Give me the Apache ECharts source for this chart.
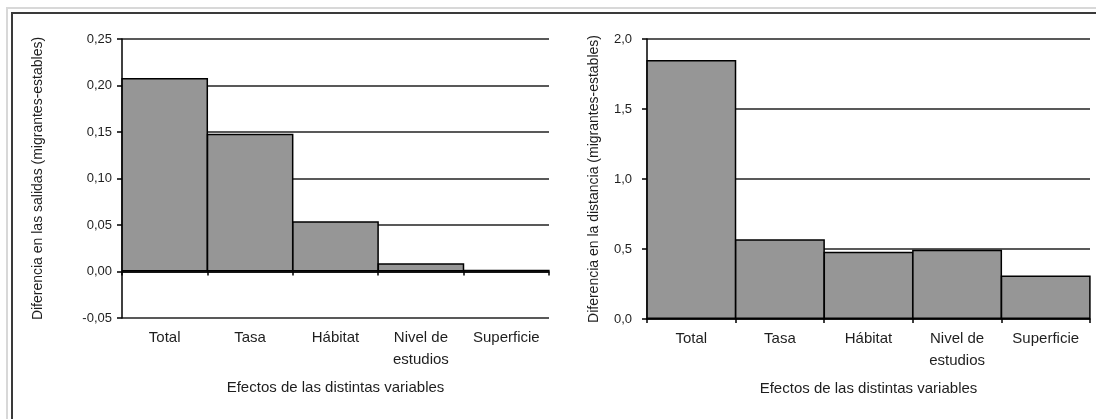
<!DOCTYPE html>
<html>
<head>
<meta charset="utf-8">
<script src="https://cdn.jsdelivr.net/npm/echarts@6/dist/echarts.min.js"></script>
<style>
html,body{margin:0;padding:0;background:#fff;}
#c{width:1096px;height:419px;}
</style>
</head>
<body>
<div id="c"></div>
<script>
var categories = ['Total', 'Tasa', 'Hábitat', 'Nivel de\nestudios', 'Superficie'];
var salidasValues = [0.208, 0.148, 0.054, 0.009, 0.002];
var distanciaValues = [1.85, 0.57, 0.48, 0.495, 0.31];
var leftTicks = { min: -0.05, max: 0.25, interval: 0.05 };
var rightTicks = { min: 0, max: 2.0, interval: 0.5 };
var leftYTitle = 'Diferencia en las salidas (migrantes-estables)';
var rightYTitle = 'Diferencia en la distancia (migrantes-estables)';
var xTitle = 'Efectos de las distintas variables';

var FONT = '"Liberation Sans", Arial, sans-serif';
var TXT = '#1e1e1e';

function fmt(d) {
  return function (v) { return v.toFixed(d).replace('.', ','); };
}

var chart = echarts.init(document.getElementById('c'), null, { renderer: 'canvas' });

var axisLineStyle = { color: '#000', width: 1.5 };
var gridLineStyle = { color: '#222', width: 1.6 };

chart.setOption({
  animation: false,
  backgroundColor: '#fff',
  textStyle: { fontFamily: FONT },
  graphic: [
    { type: 'rect', shape: { x: 7, y: 8, width: 2000, height: 2000 }, style: { fill: 'none', stroke: '#d8d8d8', lineWidth: 2 }, silent: true },
    { type: 'rect', shape: { x: 12, y: 13, width: 2000, height: 2000 }, style: { fill: 'none', stroke: '#3a3a3a', lineWidth: 2 }, silent: true }
  ],
  grid: [
    { left: 122, top: 39, width: 427, height: 279 },
    { left: 647, top: 39, width: 443, height: 280 }
  ],
  xAxis: [
    {
      type: 'category', gridIndex: 0, data: categories, position: 'bottom',
      axisLine: { show: true, onZero: true, lineStyle: axisLineStyle },
      axisTick: { show: true, length: 4, interval: 0, lineStyle: { color: '#000', width: 1.5 } },
      axisLabel: { show: false },
      splitLine: { show: false }
    },
    {
      type: 'category', gridIndex: 0, data: categories, position: 'bottom',
      axisLine: { show: false, onZero: false },
      axisTick: { show: false },
      axisLabel: { show: true, interval: 0, margin: 9, fontSize: 15, lineHeight: 22, color: TXT, fontFamily: FONT },
      splitLine: { show: false },
      name: xTitle, nameLocation: 'middle', nameGap: 62,
      nameTextStyle: { fontSize: 15, color: TXT, fontFamily: FONT }
    },
    {
      type: 'category', gridIndex: 1, data: categories, position: 'bottom',
      axisLine: { show: true, onZero: false, lineStyle: axisLineStyle },
      axisTick: { show: true, length: 4, interval: 0, lineStyle: { color: '#000', width: 1.5 } },
      axisLabel: { show: true, interval: 0, margin: 9, fontSize: 15, lineHeight: 22, color: TXT, fontFamily: FONT },
      splitLine: { show: false },
      name: xTitle, nameLocation: 'middle', nameGap: 62,
      nameTextStyle: { fontSize: 15, color: TXT, fontFamily: FONT }
    }
  ],
  yAxis: [
    {
      type: 'value', gridIndex: 0,
      min: leftTicks.min, max: leftTicks.max, interval: leftTicks.interval,
      axisLine: { show: true, lineStyle: axisLineStyle },
      axisTick: { show: true, length: 5, lineStyle: { color: '#000', width: 1.5 } },
      axisLabel: { formatter: fmt(2), margin: 10, fontSize: 13, color: TXT, fontFamily: FONT },
      splitLine: { show: true, lineStyle: gridLineStyle },
      name: leftYTitle, nameLocation: 'middle', nameRotate: 90, nameGap: 77,
      nameTextStyle: { fontSize: 14, color: TXT, fontFamily: FONT }
    },
    {
      type: 'value', gridIndex: 1,
      min: rightTicks.min, max: rightTicks.max, interval: rightTicks.interval,
      axisLine: { show: true, lineStyle: axisLineStyle },
      axisTick: { show: true, length: 5, lineStyle: { color: '#000', width: 1.5 } },
      axisLabel: { formatter: fmt(1), margin: 15, fontSize: 13, color: TXT, fontFamily: FONT },
      splitLine: { show: true, lineStyle: gridLineStyle },
      name: rightYTitle, nameLocation: 'middle', nameRotate: 90, nameGap: 46,
      nameTextStyle: { fontSize: 14, color: TXT, fontFamily: FONT }
    }
  ],
  series: [
    {
      type: 'bar', xAxisIndex: 0, yAxisIndex: 0, data: salidasValues,
      barWidth: '101.5%',
      itemStyle: { color: '#969696', borderColor: '#000', borderWidth: 1.5 },
      silent: true
    },
    {
      type: 'bar', xAxisIndex: 2, yAxisIndex: 1, data: distanciaValues,
      barWidth: '101.5%',
      itemStyle: { color: '#969696', borderColor: '#000', borderWidth: 1.5 },
      silent: true
    }
  ]
});
</script>
</body>
</html>
